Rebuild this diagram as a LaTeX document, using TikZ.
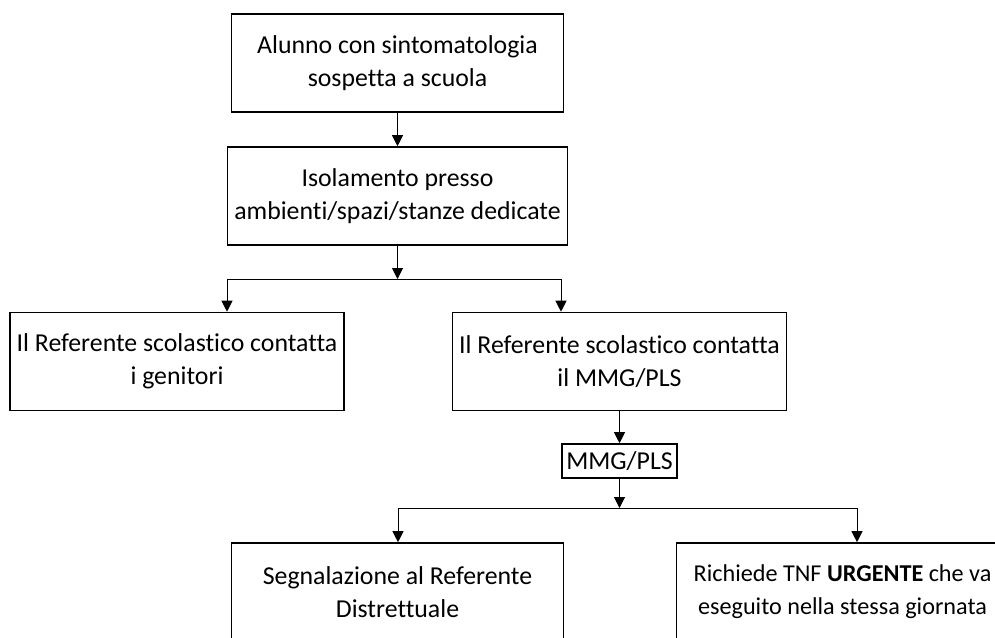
\documentclass[tikz,border=0pt]{standalone}
\usepackage{fontspec}
\setmainfont{Carlito}[Ligatures=NoCommon]
\usetikzlibrary{arrows.meta}

\begin{document}
\begin{tikzpicture}[x=0.5pt,y=-0.5pt,
	box/.style={draw, rectangle, line width=0.8pt, align=center,
		minimum width=166pt, minimum height=49pt, font=\fontsize{12.9}{16.5}\selectfont},
	tagbox/.style={draw, rectangle, line width=0.8pt, inner sep=0pt,
		minimum width=57.5pt, minimum height=17pt, font=\fontsize{12.9}{16.5}\selectfont},
	>={Triangle[length=5.5pt,width=5.5pt]}]
	\useasboundingbox (0,0) rectangle (995,637);
	\clip (0,0) rectangle (995,637);

	\node[box] (A) at (397.5,63)
	{Alunno con sintomatologia\\sospetta a scuola};%
	\node[box] (B) at (397.5,196)
	{Isolamento presso\\ambienti/spazi/stanze dedicate};%
	\node[box] (C) at (177,361.5)
	{Il Referente scolastico contatta\\i genitori};
	\node[box] (D) at (619.5,361.5)
	{Il Referente scolastico contatta\\il MMG/PLS};
	\node[tagbox] (E) at (619.5,461)
	{MMG/PLS};
	\node[box] (F) at (397.5,592)
	{Segnalazione al Referente\\Distrettuale};
	\node[box, font=\fontsize{12.1}{16.5}\selectfont] (G) at (842.5,592)
	{Richiede TNF \textbf{URGENTE} che va\\eseguito nella stessa giornata};

	\coordinate (J1) at (397.5,279);
	\coordinate (J1L) at (227,279);
	\coordinate (J1R) at (561,279);
	\coordinate (J2) at (619.5,508);
	\coordinate (J2L) at (398,508);
	\coordinate (J2R) at (857,508);

	\draw[->,line width=0.5pt] (A) -- (B) ;
	\draw[->,line width=0.5pt] (B) -- (J1) ;
	\draw[line width=0.5pt] (J1L) -- (J1R) ;
	\draw[->,line width=0.5pt] (J1L) -- (J1L |- C.north) ;
	\draw[->,line width=0.5pt] (J1R) -- (J1R |- D.north) ;
	\draw[->,line width=0.5pt] (D) -- (E) ;
	\draw[->,line width=0.5pt] (E) -- (J2) ;
	\draw[line width=0.5pt] (J2L) -- (J2R) ;
	\draw[->,line width=0.5pt] (J2L) -- (J2L |- F.north) ;
	\draw[->,line width=0.5pt] (J2R) -- (J2R |- G.north) ;
\end{tikzpicture}
\end{document}
